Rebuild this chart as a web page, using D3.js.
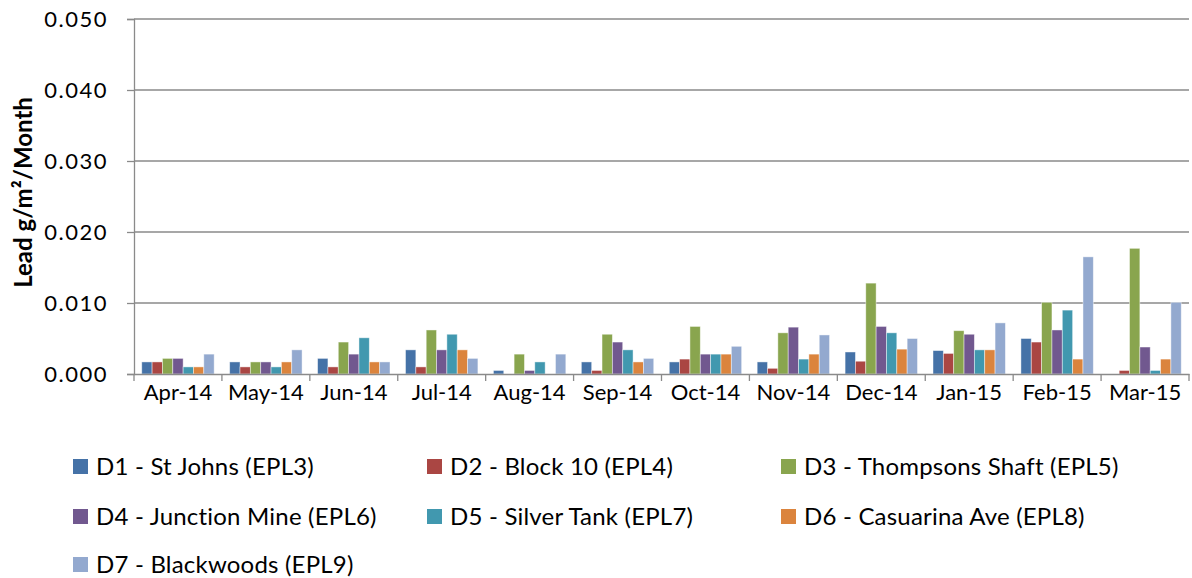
<!DOCTYPE html>
<html><head><meta charset="utf-8">
<script src="https://d3js.org/d3.v7.min.js"></script>
<style>body{margin:0;background:#fff}svg{display:block}text{font-family:Lato,"Open Sans",sans-serif}</style>
</head><body><svg id="c" width="1192" height="578"></svg>
<script>
const months = ["Apr-14","May-14","Jun-14","Jul-14","Aug-14","Sep-14","Oct-14","Nov-14","Dec-14","Jan-15","Feb-15","Mar-15"];
const seriesNames = ["D1 - St Johns (EPL3)","D2 - Block 10 (EPL4)","D3 - Thompsons Shaft (EPL5)","D4 - Junction Mine (EPL6)","D5 - Silver Tank (EPL7)","D6 - Casuarina Ave (EPL8)","D7 - Blackwoods (EPL9)"];
const colors = ["#4572A7","#AA4643","#89A54E","#71588F","#4198AF","#DB843D","#93A9CF"];
const d1 = [0.0017,0.0017,0.0022,0.0034,0.0005,0.0017,0.0017,0.0017,0.0031,0.0033,0.0050,0];
const d2 = [0.0017,0.0010,0.0010,0.0010,0,0.0005,0.0021,0.0008,0.0018,0.0029,0.0045,0.0005];
const d3v = [0.0022,0.0017,0.0045,0.0062,0.0028,0.0056,0.0067,0.0058,0.0128,0.0061,0.0101,0.0177];
const d4 = [0.0022,0.0017,0.0028,0.0034,0.0005,0.0045,0.0028,0.0066,0.0067,0.0056,0.0062,0.0038];
const d5 = [0.0010,0.0010,0.0051,0.0056,0.0017,0.0034,0.0028,0.0021,0.0058,0.0034,0.0090,0.0005];
const d6 = [0.0010,0.0017,0.0017,0.0034,0,0.0017,0.0028,0.0028,0.0035,0.0034,0.0021,0.0021];
const d7 = [0.0028,0.0034,0.0017,0.0022,0.0028,0.0022,0.0039,0.0055,0.0050,0.0072,0.0165,0.0101];
const yTicks = [0,0.01,0.02,0.03,0.04,0.05];
const yTitle = "Lead g/m²/Month";

const series = [d1,d2,d3v,d4,d5,d6,d7];
const svg = d3.select("#c");
const L=134, R=1189, T=19, B=374;
const x = d3.scaleBand().domain(months).range([L,R]).paddingInner(0).paddingOuter(0);
const y = d3.scaleLinear().domain([0,0.05]).range([B,T]);
const bw = x.bandwidth()/8.5;
const gOff = bw*0.75;

// gridlines
svg.append("g").selectAll("line").data(yTicks.filter(d=>d>0)).join("line")
  .attr("x1",L).attr("x2",R).attr("y1",d=>y(d)).attr("y2",d=>y(d))
  .attr("stroke","#8a8a8a").attr("stroke-width",1.3);

// bars
series.forEach((s,si)=>{
  svg.append("g").selectAll("rect").data(s).join("rect")
    .attr("x",(d,i)=>x(months[i])+gOff+si*bw)
    .attr("y",d=>y(d)).attr("width",bw).attr("height",d=>B-y(d))
    .attr("fill",colors[si])
    .attr("stroke","rgba(255,255,255,0.55)").attr("stroke-width",0.8);
});

// y axis
const ya = svg.append("g").attr("transform",`translate(${L},0)`)
  .call(d3.axisLeft(y).tickValues(yTicks).tickFormat(d3.format(".3f")).tickSize(7).tickPadding(19));
ya.select(".domain").attr("stroke","#8a8a8a").attr("stroke-width",1.3);
ya.selectAll(".tick line").attr("stroke","#8a8a8a").attr("stroke-width",1.3);
ya.selectAll("text").attr("font-size",22).attr("letter-spacing","1.5px").attr("fill","#000");

// x axis
const xa = svg.append("g").attr("transform",`translate(0,${B})`)
  .call(d3.axisBottom(x).tickSize(0).tickPadding(10));
xa.select(".domain").attr("stroke","#8a8a8a").attr("stroke-width",1.3);
xa.selectAll("text").attr("font-size",22).attr("fill","#000");
svg.append("g").selectAll("line").data(d3.range(months.length+1)).join("line")
  .attr("x1",i=>L+i*x.step()).attr("x2",i=>L+i*x.step())
  .attr("y1",B).attr("y2",B+7).attr("stroke","#8a8a8a").attr("stroke-width",1.3);

// y title
svg.append("text").attr("transform",`translate(32,${(T+B)/2-4}) rotate(-90)`)
  .attr("text-anchor","middle").attr("font-size",24).attr("font-weight","bold").text(yTitle);

// legend
const lx=[73,427,781], ly=[466,516,564];
seriesNames.forEach((n,i)=>{
  const g = svg.append("g").attr("transform",`translate(${lx[i%3]},${ly[Math.floor(i/3)]})`);
  g.append("rect").attr("x",0).attr("y",-7).attr("width",15).attr("height",15).attr("fill",colors[i]);
  g.append("text").attr("x",23).attr("y",0).attr("dy","0.36em").attr("font-size",24).attr("letter-spacing","0.2px").text(n);
});
</script></body></html>
